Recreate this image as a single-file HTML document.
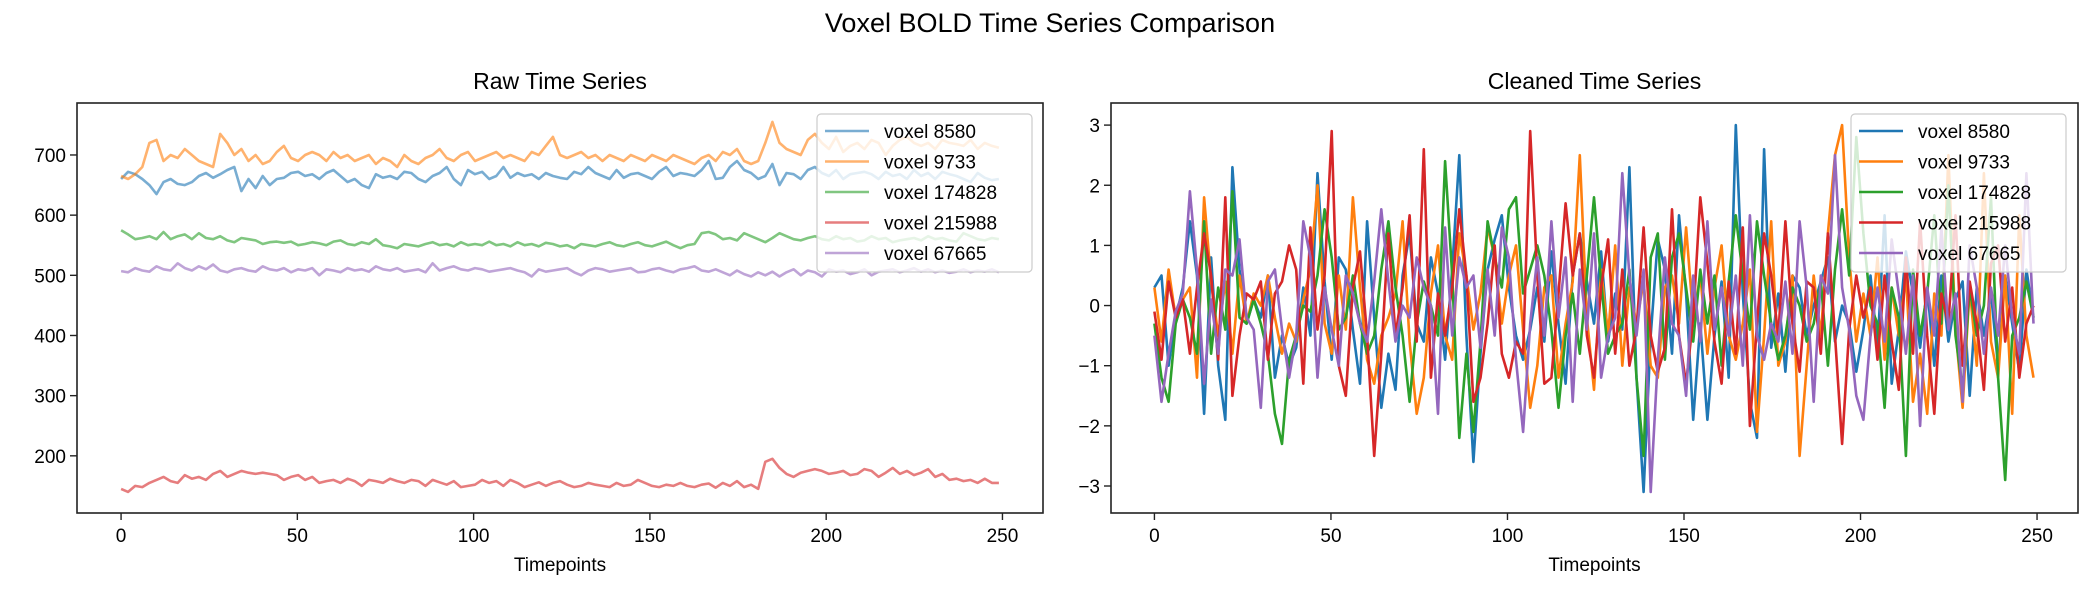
<!DOCTYPE html>
<html><head><meta charset="utf-8"><style>
html,body{margin:0;padding:0;background:#fff;}
svg text{font-family:"Liberation Sans","DejaVu Sans",sans-serif;fill:#000;}
</style></head><body>
<svg id="fig" width="2100" height="600" viewBox="0 0 2100 600" xmlns="http://www.w3.org/2000/svg">
<rect width="2100" height="600" fill="#fff"/>
<text x="1050" y="32" font-size="27" text-anchor="middle">Voxel BOLD Time Series Comparison</text>
<g id="left"></g>
<g id="right"></g>
</svg>
<script>
const labels = ["voxel 8580","voxel 9733","voxel 174828","voxel 215988","voxel 67665"];
const colors = ["#1f77b4","#ff7f0e","#2ca02c","#d62728","#9467bd"];
const xTicks = [0,50,100,150,200,250];
const rawYTicks = [200,300,400,500,600,700];
const cleanYTicks = [-3,-2,-1,0,1,2,3];
const lastTimepoint = 249;
const raw8580 = [660,672,668,660,650,635,655,660,652,650,655,665,670,662,668,675,680,640,660,645,665,650,660,662,670,672,665,668,660,670,675,665,655,660,650,645,668,662,665,660,672,670,660,655,665,670,680,660,650,675,668,672,660,665,680,662,670,665,668,660,670,665,662,660,672,668,680,670,665,660,675,662,668,670,665,660,672,680,665,670,668,665,675,690,660,662,680,690,675,670,660,665,685,650,670,668,660,675,680,670,665,675,660,668,670,672,668,660,672,665,668,660,675,665,670,660,672,668,665,660,655,670,662,658,660];
const raw9733 = [665,660,668,680,720,725,690,700,695,710,700,690,685,680,735,720,700,710,690,700,685,690,705,715,695,690,700,705,700,690,705,695,700,690,695,700,685,695,690,680,700,690,685,695,700,710,695,690,700,705,690,695,700,705,695,700,695,690,705,700,715,730,700,695,700,705,695,700,690,700,695,690,700,695,690,700,695,690,700,695,690,685,695,700,690,705,700,710,690,685,690,720,755,720,710,705,700,725,735,720,710,730,705,715,720,710,725,720,700,715,725,730,720,715,720,710,725,720,718,715,725,710,720,715,712];
const raw174828 = [575,568,560,562,565,560,572,560,565,568,560,570,562,560,565,558,555,562,560,558,552,555,556,554,556,550,552,555,553,550,556,558,552,550,555,552,560,550,548,545,552,550,548,552,555,550,552,548,555,550,552,550,556,550,552,548,555,550,552,548,554,552,548,550,545,552,550,548,552,555,550,548,552,555,550,548,552,556,550,545,550,552,570,572,568,560,562,558,570,565,560,555,562,570,565,560,558,562,565,560,558,565,560,562,556,558,565,560,562,555,558,560,562,558,565,560,562,558,556,570,565,560,558,562,560];
const raw215988 = [145,140,150,148,155,160,165,158,155,168,162,165,160,170,175,165,170,175,172,170,172,170,168,160,165,168,160,165,155,158,160,155,162,158,150,160,158,155,162,158,155,160,158,150,160,156,152,158,148,150,152,160,155,158,150,160,155,148,152,156,150,155,158,152,148,150,155,152,150,148,155,150,152,160,155,150,148,152,150,155,150,148,152,154,147,155,150,158,148,152,145,190,195,180,170,165,172,175,178,175,170,172,175,168,170,178,175,165,172,180,170,175,168,172,178,165,170,160,162,158,160,155,162,155,155];
const raw67665 = [507,505,512,508,506,515,510,508,520,512,508,515,510,518,508,505,510,512,508,506,515,510,508,512,505,510,508,512,500,510,508,505,512,508,510,506,515,510,508,512,506,508,510,505,520,508,512,515,510,508,512,510,506,508,510,512,508,505,498,510,506,508,510,512,505,500,508,512,510,506,508,510,512,505,506,510,512,508,505,510,512,515,508,506,510,505,500,508,502,498,505,500,506,498,505,510,500,508,505,498,510,506,508,502,505,510,500,506,508,510,505,508,512,506,510,505,508,504,506,510,505,508,506,510,505];
const clean8580 = [0.3,0.5,-1.0,-0.2,0.3,1.4,0.5,-1.8,0.8,-1.0,-1.9,2.3,0.6,-0.3,0.1,-0.2,0.5,-1.2,-0.5,-1.0,-0.7,0.3,-0.5,2.2,0.4,-0.9,0.8,0.6,-0.4,-1.3,1.4,-0.2,-1.7,-0.8,-1.4,0.5,1.2,-0.3,-0.6,0.8,0.2,-0.9,0.6,2.5,-0.5,-2.6,-0.8,0.6,1.1,1.5,0.3,-0.5,-0.9,-0.4,0.3,-0.6,0.9,-0.3,-1.3,0.5,1.2,0.4,-0.3,0.9,-0.6,0.2,-0.4,2.3,-1.2,-3.1,-0.5,1.1,0.6,-0.8,1.5,0.2,-1.9,-0.3,-1.9,-0.5,0.4,-1.2,3.0,0.2,-1.6,-2.2,2.6,-0.7,0.2,-1.1,0.5,0.3,-0.5,0.0,0.4,0.8,-0.6,0.0,-0.3,-1.1,-0.4,0.5,-0.7,1.5,-1.3,-0.4,0.9,0.2,-0.7,0.3,-1.0,0.5,-0.6,0.1,0.4,-1.5,0.3,-0.5,0.2,-1.0,0.5,-0.3,-1.1,0.6,-0.2];
const clean9733 = [0.3,-0.6,0.6,-0.2,0.1,0.3,-1.2,1.8,0.4,-0.5,0.4,-0.8,0.5,-0.3,0.2,0.0,0.5,-0.2,-0.8,-0.3,-0.6,0.1,0.6,2.0,-0.3,-0.8,0.5,-0.4,1.8,0.3,-0.9,-1.3,-0.5,-0.2,0.2,1.4,-0.6,-1.8,-1.2,0.2,1.0,-0.5,-0.9,1.2,0.5,-0.4,0.2,1.3,0.8,-0.3,0.5,1.0,-0.4,-1.7,-1.0,0.3,0.5,-1.2,-0.3,0.4,2.5,-0.2,-1.4,0.6,-0.5,1.0,-1.0,0.3,-0.3,0.4,-1.0,-1.2,0.3,0.5,-0.3,1.3,-0.2,0.5,-0.8,0.3,1.0,-0.5,-0.9,-0.3,0.6,-2.1,-0.5,1.4,-1.0,-0.6,0.5,-2.5,-1.0,0.5,-0.5,1.2,2.5,3.0,0.8,-0.6,0.2,-0.5,0.8,-0.9,0.3,-0.5,0.5,-1.6,-0.8,-1.8,0.2,-0.5,2.5,-0.4,-1.7,0.3,-1.0,2.2,-0.6,-1.2,0.5,-1.8,1.5,-0.5,-1.2];
const clean174828 = [-0.3,-1.2,-1.6,-0.3,0.1,-0.2,-0.8,1.4,-0.8,0.3,-0.4,1.9,-0.2,-0.3,0.1,-0.3,-0.8,-1.8,-2.3,-0.9,-0.5,0.0,-0.1,0.5,1.6,0.8,-0.4,-0.2,0.5,-0.3,-0.8,-0.5,0.6,1.4,0.3,-0.5,-1.6,-0.3,0.4,0.0,-0.5,2.4,0.5,-2.2,-0.8,-2.1,-0.6,1.4,0.8,0.3,1.6,1.8,0.2,0.6,1.0,0.5,-0.4,-1.7,-0.5,0.2,-0.8,0.5,1.8,0.4,-0.8,-0.5,-0.3,0.6,-1.2,-2.5,0.8,1.2,-0.9,0.8,1.2,0.3,-0.6,0.6,-0.3,0.5,-1.0,0.4,1.5,0.5,-0.4,1.4,0.5,-0.3,-0.9,-0.5,0.3,0.0,-0.6,-0.3,0.4,-1.0,0.6,1.6,0.5,2.8,1.2,0.0,-0.3,-1.7,0.3,-0.2,-2.5,0.6,-0.5,0.2,1.5,-0.3,2.0,-0.5,-1.4,0.3,-0.5,0.0,1.8,-1.2,-2.9,-0.5,-0.2,0.4,-0.2];
const clean215988 = [-0.1,-0.9,0.4,-0.2,0.1,-0.8,0.3,1.2,0.5,-0.9,1.8,-1.5,-0.5,0.2,0.1,0.4,-0.9,0.2,0.4,1.0,0.6,-1.3,1.3,-0.4,0.5,2.9,-1.0,-1.5,0.3,0.9,-0.5,-2.5,-0.8,1.2,-0.5,0.3,1.5,-0.6,2.6,-1.2,0.2,-0.5,0.3,1.6,0.5,-1.6,-1.2,-0.3,1.0,-0.8,-1.2,-0.6,-0.8,2.9,0.5,-1.3,-1.2,0.2,1.7,0.5,1.2,-0.5,-1.2,0.3,1.1,-0.8,0.6,-1.0,-0.4,1.3,-0.5,-1.1,-0.7,1.6,-0.5,-1.3,-0.2,1.8,0.7,-0.6,-1.3,0.4,-0.8,1.3,-2.0,-0.3,1.2,0.5,-0.5,1.4,-0.3,-1.1,0.4,0.3,-0.8,1.2,-0.5,-2.3,-0.4,0.5,-0.2,0.3,-0.9,0.5,-0.6,-1.4,0.8,-0.8,1.4,-0.5,-1.8,0.2,-0.3,1.5,-1.0,0.4,-0.3,-1.4,0.7,1.0,-0.6,0.3,-1.2,-0.3,0.0];
const clean67665 = [-0.5,-1.6,-0.8,-0.1,0.2,1.9,0.6,-1.3,0.1,-0.8,0.6,0.5,1.1,-0.2,-0.4,-1.7,0.4,0.6,-0.4,-1.2,-0.5,1.4,0.8,-1.2,0.3,-0.4,-1.0,0.5,0.2,-0.3,-0.6,0.4,1.6,0.4,-0.6,0.0,-0.2,0.8,0.3,0.0,-1.8,1.3,-0.5,0.8,0.3,0.5,-0.7,0.6,-0.5,1.3,0.8,-0.9,-2.1,-0.3,0.8,-0.5,1.4,-0.2,0.8,-1.6,0.6,-0.4,1.2,-1.2,-0.5,-0.2,2.2,0.5,-0.5,0.6,-3.1,-0.9,0.8,-0.3,-0.5,-1.5,0.5,-0.6,1.4,-0.4,0.3,-0.5,0.5,-1.0,1.5,-0.5,-0.9,-0.3,-0.6,0.4,-0.8,1.4,0.3,-1.6,0.5,0.2,2.5,0.3,-0.4,-1.5,-1.9,-0.5,0.3,-0.6,1.1,0.2,-0.8,0.5,-2.0,0.3,-0.5,1.3,-0.4,0.2,-1.6,1.0,0.3,-0.8,0.3,-0.5,1.0,-0.2,-0.8,2.2,-0.3];
const rawSeries = [raw8580,raw9733,raw174828,raw215988,raw67665];
const cleanSeries = [clean8580,clean9733,clean174828,clean215988,clean67665];

const NS="http://www.w3.org/2000/svg";
function mk(tag,attrs,parent){const e=document.createElementNS(NS,tag);for(const k in attrs)e.setAttribute(k,attrs[k]);parent.appendChild(e);return e;}

function panel(g,cfg){
  const {x0,x1,y0,y1,xd0,xd1,yd0,yd1,series,yTicks,title,alpha,legendX,fmt}=cfg;
  const sx=v=>x0+(v-xd0)/(xd1-xd0)*(x1-x0);
  const sy=v=>y1-(v-yd0)/(yd1-yd0)*(y1-y0);
  const tt=mk('text',{x:(x0+x1)/2,y:y0-14,'font-size':23,'text-anchor':'middle'},g);
  
  
  tt.textContent=title;
  series.forEach((s,si)=>{
    const n=s.length;
    const pts=s.map((v,i)=>sx(i*lastTimepoint/(n-1)).toFixed(1)+','+sy(v).toFixed(1)).join(' ');
    const pl=mk('polyline',{points:pts,fill:'none',stroke:colors[si],'stroke-width':2.6,'stroke-opacity':alpha,'stroke-linejoin':'round'},g);
    
    
  });
  const fr=mk('rect',{x:x0,y:y0,width:x1-x0,height:y1-y0,fill:'none',stroke:'#222','stroke-width':1.6},g);
  
  
  xTicks.forEach(t=>{
    const X=sx(t);
    mk('line',{x1:X,x2:X,y1:y1,y2:y1+7,stroke:'#222','stroke-width':1.4},g);
    const tx=mk('text',{x:X,y:y1+29,'font-size':19,'text-anchor':'middle'},g);
    
    
    tx.textContent=t;
  });
  yTicks.forEach(t=>{
    const Y=sy(t);
    mk('line',{x1:x0-7,x2:x0,y1:Y,y2:Y,stroke:'#222','stroke-width':1.4},g);
    const ty=mk('text',{x:x0-11,y:Y+7,'font-size':19,'text-anchor':'end'},g);
    
    
    ty.textContent=fmt(t);
  });
  const xl=mk('text',{x:(x0+x1)/2,y:y1+58,'font-size':19,'text-anchor':'middle'},g);
  
  
  xl.textContent='Timepoints';
  const lg=mk('g',{},g);
  
  
  mk('rect',{x:legendX,y:114,width:215,height:158,rx:4,fill:'#fff','fill-opacity':0.8,stroke:'#ccc','stroke-width':1.2},lg);
  labels.forEach((l,i)=>{
    const Y=131+i*30.5;
    const e=mk('g',{},lg);
    
    
    mk('line',{x1:legendX+8,x2:legendX+52,y1:Y,y2:Y,stroke:colors[i],'stroke-width':2.6,'stroke-opacity':alpha},e);
    const t=mk('text',{x:legendX+67,y:Y+7,'font-size':19},e);
    t.textContent=l;
  });
}
panel(document.getElementById('left'),{x0:77,x1:1043,y0:103,y1:513,xd0:-12.5,xd1:261.5,yd0:200-(513-455.8)/60.2*100,yd1:700+(155-103)/60.2*100,series:rawSeries,yTicks:rawYTicks,title:'Raw Time Series',alpha:0.6,legendX:817,fmt:t=>t});
panel(document.getElementById('right'),{x0:1111,x1:2078,y0:103,y1:513,xd0:-12.3,xd1:261.6,yd0:-3-(513-486)/60.15,yd1:3+(125.1-103)/60.15,series:cleanSeries,yTicks:cleanYTicks,title:'Cleaned Time Series',alpha:1,legendX:1851,fmt:t=>t<0?'\u2212'+(-t):''+t});
</script>
</body></html>
